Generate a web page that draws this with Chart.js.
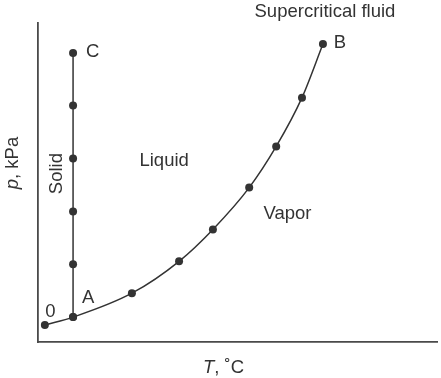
<!DOCTYPE html>
<html>
<head>
<meta charset="utf-8">
<script src="https://cdn.jsdelivr.net/npm/chart.js@4"></script>
<style>
  html, body { margin: 0; padding: 0; background: #fff; }
  #wrap { width: 441px; height: 378px; }
</style>
</head>
<body>
<div id="wrap"><canvas id="myChart"></canvas></div>
<script>
// vapour pressure curve 0 -> A -> B
var curveT = [1.7, 8.7, 23.3, 35.0, 43.4, 52.4, 59.1, 65.5, 70.7];
var curveP = [5.3, 7.8, 15.3, 25.3, 35.3, 48.4, 61.3, 76.6, 93.4];
// melting line A -> C
var meltT = [8.7, 8.7, 8.7, 8.7, 8.7, 8.7];
var meltP = [7.8, 24.4, 40.9, 57.5, 74.1, 90.6];

// point labels and region labels (data coords + pixel offset)
var pointLabels = [
    { text: '0', x: 1.7, y: 5.3, dx: 5.5, dy: -13 },
    { text: 'A', x: 8.7, y: 7.8, dx: 15, dy: -19 },
    { text: 'C', x: 8.7, y: 90.6, dx: 19.5, dy: -1 },
    { text: 'B', x: 70.7, y: 93.4, dx: 17, dy: -1.5 }
];
var regionLabels = [
    { text: 'Liquid', x: 31.3, y: 56.9 },
    { text: 'Vapor', x: 61.9, y: 40.0 },
    { text: 'Supercritical fluid', x: 71.2, y: 103.4 }
];

var ink = '#333';
var font = '18.5px "Liberation Sans", Arial, sans-serif';

var labelPlugin = {
    id: 'labels',
    afterDraw: function (chart) {
        var c = chart.ctx, xs = chart.scales.x, ys = chart.scales.y;
        c.save();
        c.fillStyle = ink;
        c.font = font;
        c.textAlign = 'center';
        c.textBaseline = 'middle';
        pointLabels.forEach(function (l) {
            c.fillText(l.text, xs.getPixelForValue(l.x) + l.dx, ys.getPixelForValue(l.y) + l.dy);
        });
        regionLabels.forEach(function (l) {
            c.fillText(l.text, xs.getPixelForValue(l.x), ys.getPixelForValue(l.y));
        });
        // Solid, rotated
        c.save();
        c.translate(xs.getPixelForValue(8.7) - 16, ys.getPixelForValue(52.8));
        c.rotate(-Math.PI / 2);
        c.fillText('Solid', 0, 0);
        c.restore();
        // y axis title
        c.save();
        c.translate(13, 163);
        c.rotate(-Math.PI / 2);
        c.textAlign = 'left';
        var w1 = c.measureText(', kPa').width;
        c.font = 'italic ' + font;
        var w0 = c.measureText('p').width;
        c.fillText('p', -(w0 + w1) / 2, 0);
        c.font = font;
        c.fillText(', kPa', -(w0 + w1) / 2 + w0, 0);
        c.restore();
        // x axis title
        c.textAlign = 'left';
        c.font = 'italic ' + font;
        var t0 = c.measureText('T').width;
        c.font = font;
        var t1 = c.measureText(', \u02DAC').width;
        var sx = 223.5 - (t0 + t1) / 2;
        c.font = 'italic ' + font;
        c.fillText('T', sx, 368);
        c.font = font;
        c.fillText(', \u02DAC', sx + t0, 368);
        c.restore();
    }
};

function pts(xa, ya) {
    return xa.map(function (v, i) { return { x: v, y: ya[i] }; });
}

var ctx = document.getElementById('myChart');
var myChart = new Chart(ctx, {
    type: 'scatter',
    data: {
        datasets: [{
            data: pts(curveT, curveP),
            showLine: true,
            cubicInterpolationMode: 'monotone',
            borderColor: ink,
            borderWidth: 1.5,
            backgroundColor: ink,
            pointRadius: 4,
            pointBorderWidth: 0
        }, {
            data: pts(meltT, meltP),
            showLine: true,
            borderColor: ink,
            borderWidth: 1.5,
            backgroundColor: ink,
            pointRadius: 4,
            pointBorderWidth: 0
        }]
    },
    options: {
        responsive: true,
        maintainAspectRatio: false,
        animation: false,
        layout: { padding: { left: 38, right: 0, top: 23, bottom: 36 } },
        plugins: {
            legend: { display: false },
            tooltip: { enabled: false }
        },
        scales: {
            x: {
                type: 'linear', min: 0, max: 99,
                grid: { display: false, drawTicks: false },
                border: { color: '#4a4a4a', width: 1.8 },
                ticks: { display: false }
            },
            y: {
                type: 'linear', min: 0, max: 100,
                grid: { display: false, drawTicks: false },
                border: { color: '#4a4a4a', width: 1.8 },
                ticks: { display: false }
            }
        }
    },
    plugins: [labelPlugin]
});
</script>
</body>
</html>
